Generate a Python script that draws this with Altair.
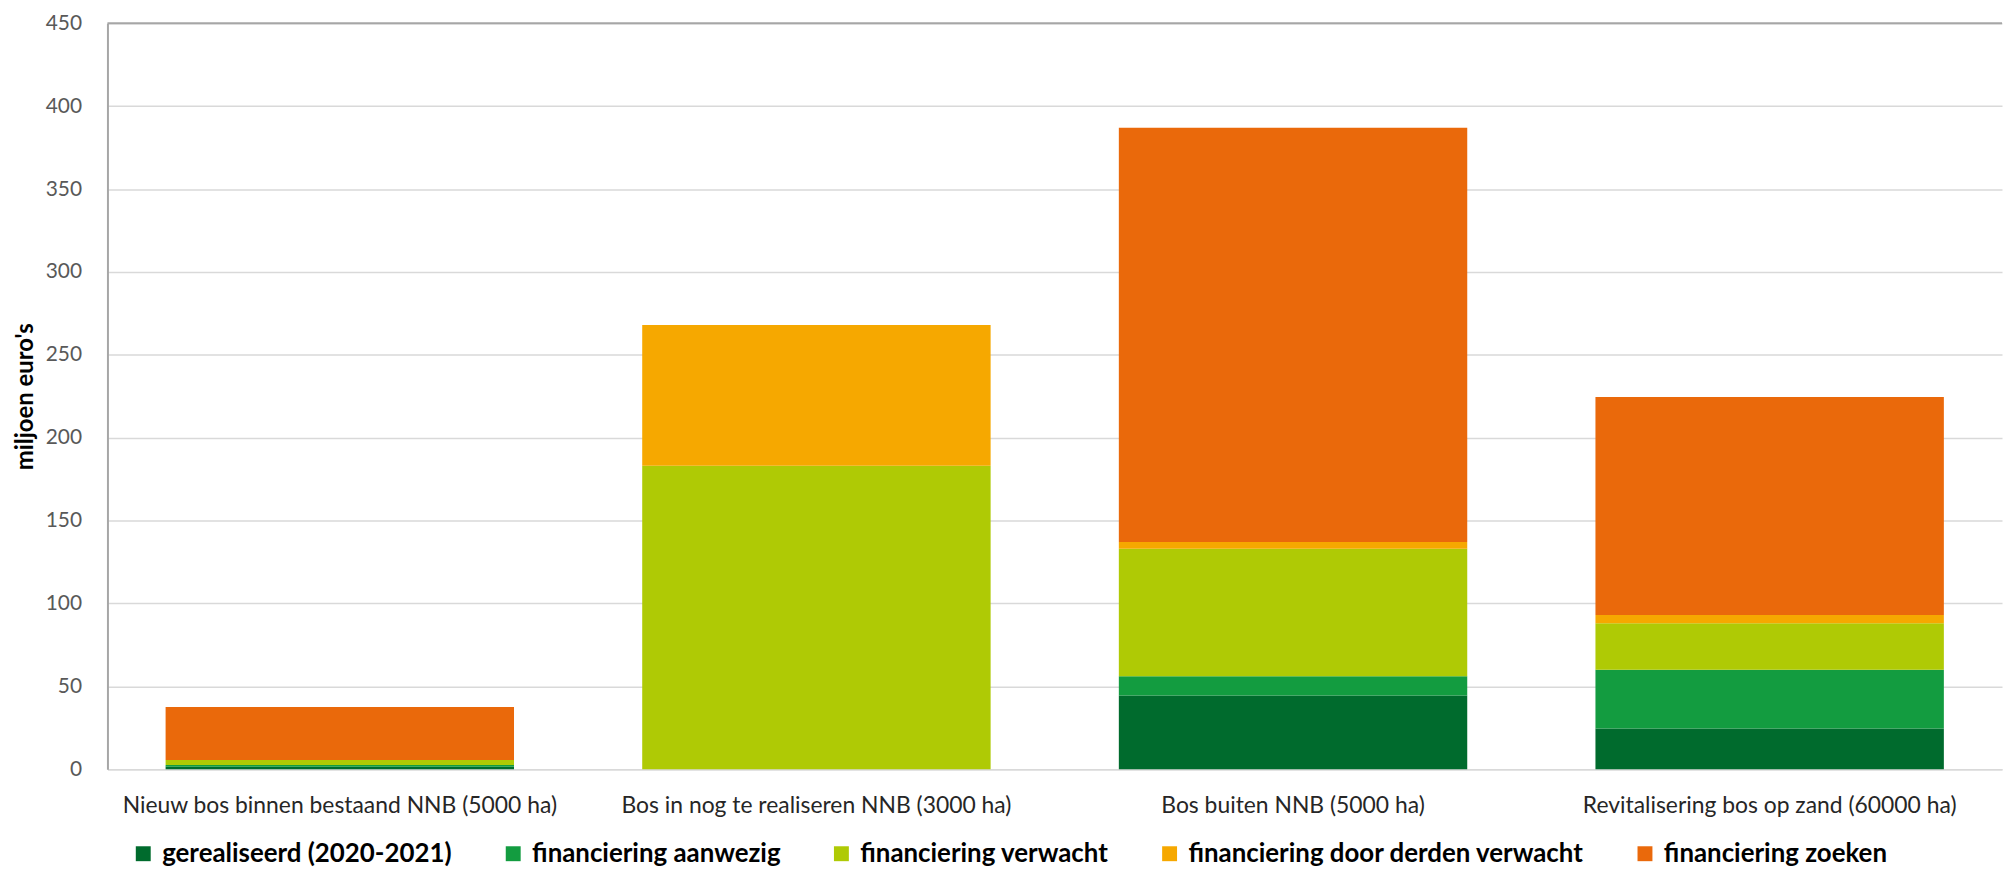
import altair as alt
import pandas as pd

categories = [
    "Nieuw bos binnen bestaand NNB (5000 ha)",
    "Bos in nog te realiseren NNB (3000 ha)",
    "Bos buiten NNB (5000 ha)",
    "Revitalisering bos op zand (60000 ha)",
]
series = [
    "gerealiseerd (2020-2021)",
    "financiering aanwezig",
    "financiering verwacht",
    "financiering door derden verwacht",
    "financiering zoeken",
]
gerealiseerd = [1.5, 0, 44.5, 24.5]
aanwezig = [1.0, 0, 11.5, 35.5]
verwacht = [3.0, 183, 77, 28]
derden = [0, 85, 4, 5]
zoeken = [32, 0, 250, 131.5]
colors = ["#006B2D", "#139C40", "#AFCA05", "#F6A800", "#EA690B"]
y_ticks = [0, 50, 100, 150, 200, 250, 300, 350, 400, 450]
y_max = [450]

rows = []
for si, (name, vals) in enumerate(zip(series, [gerealiseerd, aanwezig, verwacht, derden, zoeken])):
    for cat, v in zip(categories, vals):
        rows.append({"categorie": cat, "reeks": name, "waarde": v, "volgorde": si})
df = pd.DataFrame(rows)

bars = alt.Chart(df).mark_bar().encode(
    x=alt.X(
        "categorie:N",
        sort=categories,
        scale=alt.Scale(paddingInner=0.269, paddingOuter=0.122),
        axis=alt.Axis(
            title=None, labelAngle=0, labelFontSize=23, labelFont="Lato",
            labelColor="#262626", labelPadding=26, ticks=False,
            domainColor="#d9d9d9", domainWidth=1.5, labelLimit=600,
        ),
    ),
    y=alt.Y(
        "waarde:Q",
        stack="zero",
        scale=alt.Scale(domain=[0, 450]),
        axis=alt.Axis(
            values=y_ticks, title="miljoen euro's", titleFontSize=24,
            titleFont="Lato", titleFontWeight="bold", titleColor="#000000",
            titlePadding=8, labelFontSize=21, labelFont="Lato",
            labelColor="#595959", labelPadding=26, ticks=False,
            domainColor="#a6a6a6", domainWidth=2, gridColor="#d9d9d9",
            gridWidth=1.5,
        ),
    ),
    color=alt.Color(
        "reeks:N",
        sort=series,
        scale=alt.Scale(domain=series, range=colors),
        legend=alt.Legend(
            title=None, orient="none", direction="horizontal",
            legendX=23, legendY=822,
            symbolType="square", symbolSize=225, symbolStrokeWidth=0,
            labelFont="Lato", labelFontSize=26, labelFontWeight="bold",
            labelColor="#000000", columnPadding=48, labelOffset=6,
            labelLimit=600,
        ),
    ),
    order=alt.Order("volgorde:Q", sort="ascending"),
)

top_line = alt.Chart(pd.DataFrame({"y": y_max})).mark_rule(
    color="#a6a6a6", strokeWidth=2
).encode(y="y:Q")

chart = alt.layer(bars, top_line).properties(
    width=1905, height=750,
    padding={"left": 5, "top": 2, "right": 0, "bottom": 5},
).configure_view(stroke=None)

chart.save("out.html", embed_options={"renderer": "svg", "actions": False})
